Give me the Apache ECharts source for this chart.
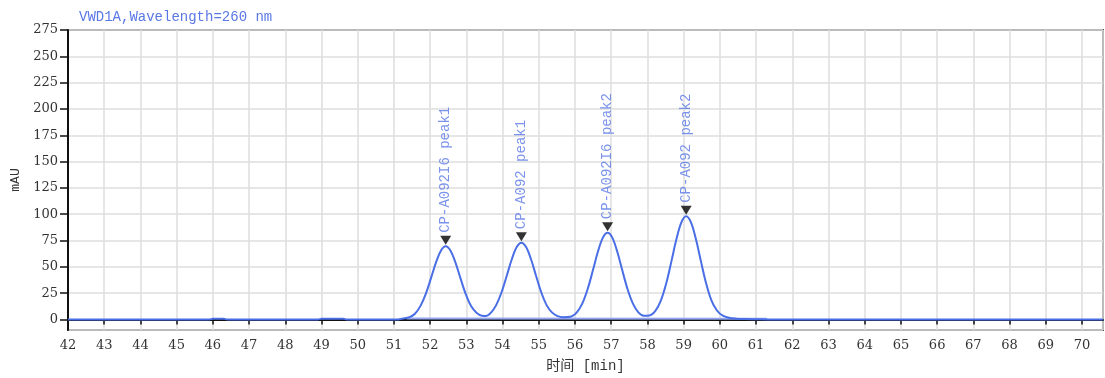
<!DOCTYPE html>
<html>
<head>
<meta charset="utf-8">
<script src="https://cdn.jsdelivr.net/npm/echarts@6/dist/echarts.min.js"></script>
<style>
html, body { margin: 0; padding: 0; background: #fff; }
#chart { width: 1105px; height: 378px; }
</style>
</head>
<body>
<div id="chart"></div>
<script>
// signal trace (min, mAU)
var times = [42, 45.9, 46.0, 46.3, 46.4, 48.9, 49.0, 49.6, 49.7, 51.0, 51.2,
    51.43, 51.58, 51.73, 51.88, 52.03, 52.16, 52.30, 52.43, 52.56, 52.70, 52.83, 52.98, 53.13, 53.28, 53.43, 53.55,
    53.68, 53.82, 53.97, 54.12, 54.25, 54.39, 54.52, 54.65, 54.79, 54.92, 55.07, 55.22, 55.37, 55.52, 55.67,
    55.80, 55.92, 56.05, 56.20, 56.35, 56.50, 56.63, 56.77, 56.90, 57.03, 57.17, 57.30, 57.45, 57.60, 57.75, 57.90,
    58.05, 58.22, 58.37, 58.52, 58.67, 58.80, 58.94, 59.07, 59.20, 59.34, 59.47, 59.62, 59.77, 59.92, 60.07,
    60.25, 60.45, 60.70, 61.0, 61.3, 70.58];
var signal = [0, 0, 0.7, 0.7, 0, 0, 0.6, 0.6, 0, 0, 0.5,
    2.2, 5.5, 12.7, 24.4, 40, 54, 65.5, 69.5, 65.5, 54, 40, 24.4, 12.7, 6.5, 3.6, 3.4,
    6.5, 13.4, 25.6, 42, 56.7, 68.8, 73, 68.8, 56.7, 42, 25.6, 13.4, 6.5, 3.2, 2.2,
    2.3, 3.2, 6.8, 15.1, 29, 47.4, 64.1, 77.8, 82.5, 77.8, 64.1, 47.4, 29, 15.1, 6.8, 3.6,
    3.8, 8.2, 17.9, 34.4, 56.4, 76.1, 92.4, 98, 92.4, 76.1, 56.4, 34.4, 17.9, 8.5, 3.8,
    1.6, 0.8, 0.4, 0.2, 0, 0];

// integration baseline
var baseTimes = [51.35, 61.3];
var baseValues = [1.0, 0.6];

// peak annotations
var peakTimes = [52.43, 54.52, 56.90, 59.07];
var peakHeights = [69.5, 73, 82.5, 98];
var peakNames = ['CP-A092I6 peak1', 'CP-A092 peak1', 'CP-A092I6 peak2', 'CP-A092 peak2'];

var mono = 'Liberation Mono, DejaVu Sans Mono, Noto Sans CJK SC, monospace';
var serif = 'DejaVu Serif, serif';

function pairs(xs, ys) {
    var out = [];
    for (var i = 0; i < xs.length; i++) {
        out.push([xs[i], ys[i]]);
    }
    return out;
}

var peakData = [];
for (var i = 0; i < peakTimes.length; i++) {
    peakData.push({ value: [peakTimes[i], peakHeights[i]], label: { formatter: peakNames[i] } });
}

var chart = echarts.init(document.getElementById('chart'));
var option = {
    animation: false,
    title: {
        text: 'VWD1A,Wavelength=260 nm',
        left: 74,
        top: 5,
        textStyle: { fontFamily: mono, fontSize: 14, fontWeight: 'normal', color: '#5a78e6' }
    },
    grid: {
        left: 68, right: 2, top: 30, bottom: 48,
        show: true, borderColor: '#555', borderWidth: 2,
        outerBoundsMode: 'none'
    },
    xAxis: {
        type: 'value',
        min: 42,
        max: 70.58,
        interval: 1,
        name: '时间 [min]',
        nameLocation: 'middle',
        nameGap: 29,
        nameTextStyle: { fontFamily: mono, fontSize: 14, color: '#333' },
        axisLine: { lineStyle: { color: '#111', width: 2 } },
        axisTick: { length: 5, lineStyle: { color: '#111', width: 1.5 } },
        axisLabel: { margin: 9, showMaxLabel: false, fontFamily: serif, fontSize: 13, color: '#333' },
        splitLine: { lineStyle: { color: '#dedede', width: 1.5 } }
    },
    yAxis: {
        type: 'value',
        min: -10,
        max: 275,
        minInterval: 25,
        maxInterval: 25,
        name: 'mAU',
        nameLocation: 'middle',
        nameGap: 44,
        nameTextStyle: { fontFamily: mono, fontSize: 13, color: '#333' },
        axisLine: { lineStyle: { color: '#111', width: 2 } },
        axisTick: { length: 8, lineStyle: { color: '#111', width: 1.5 } },
        axisLabel: { margin: 10, showMinLabel: false, fontFamily: serif, fontSize: 13, color: '#333' },
        splitLine: { lineStyle: { color: '#dedede', width: 1.5 } }
    },
    series: [
        {
            type: 'line',
            data: pairs(baseTimes, baseValues),
            showSymbol: false,
            lineStyle: { color: '#93a6ef', width: 2 },
            z: 2
        },
        {
            type: 'line',
            data: pairs(times, signal),
            showSymbol: false,
            smooth: 0.35,
            lineStyle: { color: '#4a6ee6', width: 2 },
            z: 3
        },
        {
            type: 'scatter',
            data: peakData,
            symbol: 'path://M0,0 L10,0 L5,9 Z',
            symbolSize: [11, 9],
            symbolOffset: [0, -6],
            itemStyle: { color: '#000' },
            label: {
                show: true,
                position: 'top',
                distance: 3,
                rotate: 90,
                align: 'left',
                verticalAlign: 'middle',
                fontFamily: mono,
                fontSize: 14,
                color: '#5a78e6'
            },
            z: 4
        }
    ]
};
chart.setOption(option);
</script>
</body>
</html>
